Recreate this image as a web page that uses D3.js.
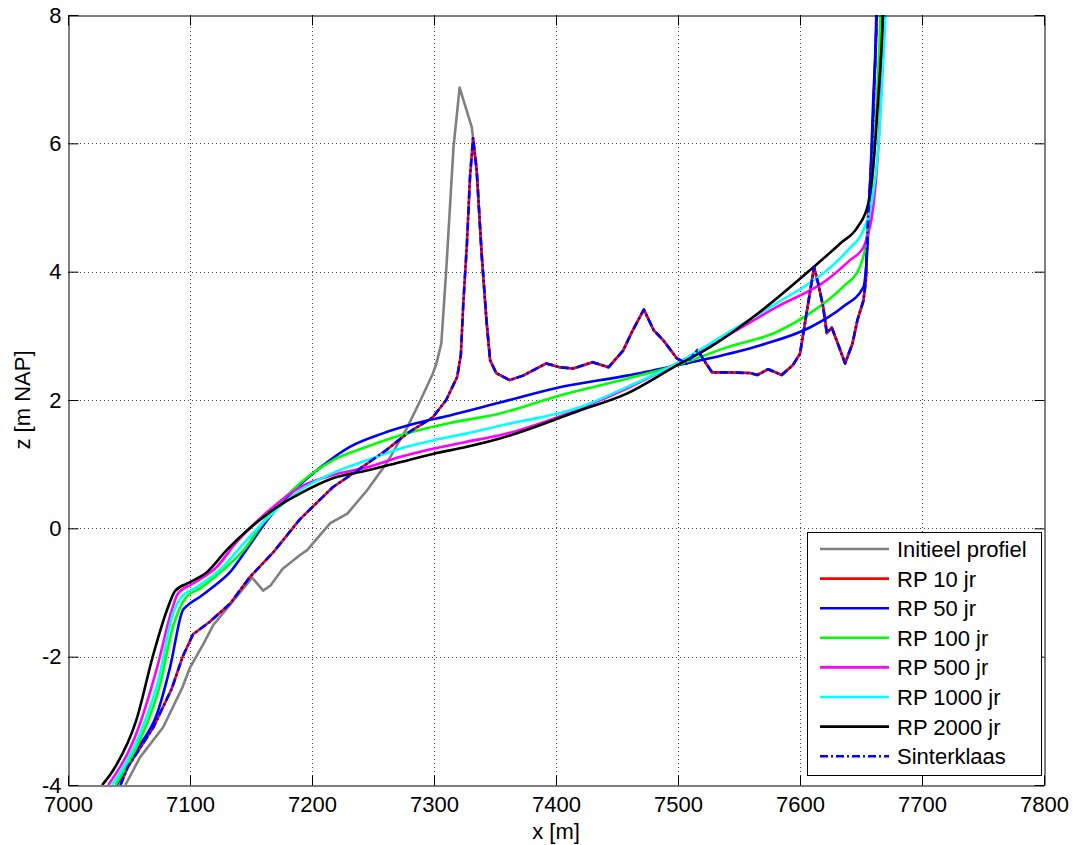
<!DOCTYPE html>
<html>
<head>
<meta charset="utf-8">
<script src="https://cdn.jsdelivr.net/npm/d3@7"></script>
<style>
  html, body { margin: 0; padding: 0; background: #fff; }
  svg { display: block; font-family: "Liberation Sans", Arial, Helvetica, sans-serif; }
</style>
</head>
<body>
<svg id="chart" width="1074" height="845"></svg>
<script>
// Cross-shore profiles: x [m] vs bed level z [m NAP]
const xTicks = [7000, 7100, 7200, 7300, 7400, 7500, 7600, 7700, 7800];
const zTicks = [-4, -2, 0, 2, 4, 6, 8];

// Post-storm profile, return period 10 years
const rp10 = [
  [7043,-4],[7049,-3.72],[7070,-3.1],[7085,-2.5],[7094,-2.0],[7102.5,-1.65],[7116,-1.46],
  [7133,-1.17],[7149,-0.76],[7168,-0.38],[7190,0.14],[7217,0.64],[7237,0.9],[7261,1.22],
  [7278,1.48],[7299,1.73],[7310,2.0],[7319,2.36],[7322,2.7],[7324,3.5],[7327,4.44],
  [7329.5,5.47],[7332,6.08],[7335,5.58],[7339,4.29],[7343,3.24],[7346,2.62],[7351,2.42],
  [7362,2.31],[7373,2.38],[7392,2.57],[7403,2.51],[7414,2.49],[7430,2.59],[7443,2.51],
  [7455,2.77],[7463,3.09],[7472,3.41],[7480,3.09],[7488,2.93],[7499,2.65],[7507,2.57],
  [7516,2.78],[7523,2.57],[7528,2.43],[7540,2.43],[7559,2.42],[7565,2.39],[7574,2.48],
  [7585,2.39],[7594,2.54],[7600,2.72],[7604,3.19],[7608,3.66],[7611.5,4.07],[7615,3.81],
  [7619,3.45],[7622,3.04],[7626,3.13],[7630,2.93],[7637,2.57],[7643,2.88],[7647,3.24],
  [7652,3.55],[7654,3.87],[7655,4.49],[7656,4.9],[7659,5.9],[7661.5,7.2],[7663,8.0],[7664,8.6]
];

// Initial profile seaward of the dune crest; landward it coincides with rp10
const initialSeaward = [
  [7047,-4],[7059,-3.57],[7078,-3.1],[7094,-2.47],[7100,-2.17],[7111,-1.8],[7119,-1.51],
  [7138,-1.07],[7151,-0.77],[7160,-0.97],[7166,-0.89],[7176,-0.63],[7190,-0.42],[7196,-0.34],
  [7215,0.08],[7229,0.23],[7245,0.59],[7261,1.01],[7278,1.57],[7289,2.0],[7299,2.41],
  [7302,2.57],[7306,2.88],[7310,4.02],[7316,5.94],[7321,6.87],[7331,6.25]
];
const initial = initialSeaward.concat(rp10.filter(d => d[0] >= 7332));

const rp50 = [
  [7040,-4],[7056,-3.46],[7073,-2.89],[7083.6,-2.17],[7094,-1.28],[7098,-1.2],[7108,-1.07],
  [7119,-0.91],[7133,-0.68],[7146,-0.34],[7163,0.12],[7185,0.59],[7207,0.95],[7231,1.27],
  [7258,1.48],[7286,1.64],[7313,1.76],[7354,1.96],[7403,2.2],[7458,2.38],[7499,2.54],
  [7526,2.65],[7567,2.85],[7608,3.13],[7635,3.45],[7652,3.76],[7655,4.3],[7657,5.1],
  [7660,6.67],[7662.5,8.0],[7663,8.6]
];

const rp100 = [
  [7039,-4],[7059,-3.3],[7075,-2.47],[7086,-1.54],[7097,-1.07],[7108,-0.94],[7127,-0.65],
  [7144,-0.34],[7163,0.17],[7190,0.7],[7217,1.06],[7245,1.27],[7278,1.48],[7313,1.64],
  [7354,1.79],[7403,2.07],[7458,2.33],[7499,2.54],[7540,2.82],[7581,3.06],[7608,3.35],
  [7635,3.76],[7649,4.07],[7653,4.33],[7655,4.6],[7659,5.37],[7663,6.67],[7666,8.0],[7667,8.6]
];

const rp500 = [
  [7033,-4],[7057,-3.15],[7073,-2.17],[7085,-1.28],[7090,-1.02],[7102.5,-0.86],[7122,-0.6],
  [7137,-0.24],[7163,0.25],[7190,0.64],[7217,0.83],[7245,0.95],[7272,1.11],[7299,1.24],
  [7327,1.35],[7354,1.45],[7420,1.87],[7458,2.18],[7499,2.57],[7540,3.0],[7581,3.45],
  [7622,3.87],[7641,4.18],[7652,4.38],[7656,4.6],[7660,5.0],[7664,5.89],[7667,7.19],
  [7668,8.0],[7669,8.6]
];

const rp1000 = [
  [7036,-4],[7059,-3.2],[7074,-2.37],[7086,-1.33],[7093,-1.07],[7106,-0.91],[7127,-0.6],
  [7140,-0.32],[7163,0.15],[7190,0.59],[7217,0.86],[7245,1.06],[7272,1.24],[7299,1.37],
  [7327,1.48],[7354,1.6],[7420,1.89],[7458,2.2],[7499,2.57],[7540,3.04],[7581,3.51],
  [7622,4.02],[7640,4.35],[7652,4.65],[7659,5.11],[7664,5.89],[7668,7.19],[7670,8.0],[7671,8.6]
];

const rp2000 = [
  [7028,-4],[7037,-3.77],[7056,-2.99],[7070,-1.96],[7081,-1.28],[7088,-0.97],[7100,-0.84],
  [7114,-0.68],[7130,-0.34],[7149,0.0],[7176,0.39],[7190,0.54],[7217,0.78],[7245,0.9],
  [7272,1.03],[7299,1.16],[7327,1.27],[7354,1.4],[7420,1.84],[7458,2.1],[7499,2.54],
  [7526,2.82],[7567,3.37],[7608,4.02],[7633,4.44],[7647,4.69],[7656,5.06],[7660,5.63],
  [7664,6.67],[7668,8.0],[7669,8.6]
];

// Sinterklaas storm profile coincides with the 10-year profile
const sinterklaas = rp10;

const seriesNames = ["Initieel profiel","RP 10 jr","RP 50 jr","RP 100 jr","RP 500 jr","RP 1000 jr","RP 2000 jr","Sinterklaas"];
const seriesData  = [initial, rp10, rp50, rp100, rp500, rp1000, rp2000, sinterklaas];
const seriesColors = ["#808080","#ff0000","#0000ff","#00ff00","#ff00ff","#00ffff","#000000","#0000ff"];
const seriesDash   = [null, null, null, null, null, null, null, "8,3,2,3"];
// Equilibrium profiles are drawn as smooth curves, measured profiles as polylines
const seriesSmooth = [false, false, true, true, true, true, true, false];

// Layout
const svg = d3.select("#chart");
const W = 1074, H = 845;
const plot = { left: 68, right: 1044, top: 15, bottom: 785 };

svg.append("rect").attr("width", W).attr("height", H).attr("fill", "#fff");

const x = d3.scaleLinear().domain([7000, 7800]).range([plot.left, plot.right]);
const y = d3.scaleLinear().domain([-4, 8]).range([plot.bottom, plot.top]);

// Grid
const grid = svg.append("g").attr("stroke", "#444").attr("stroke-width", 1).attr("stroke-dasharray", "1,3");
grid.selectAll("line.gx").data(xTicks.slice(1, -1)).join("line")
  .attr("x1", d => Math.round(x(d)) + 0.5).attr("x2", d => Math.round(x(d)) + 0.5)
  .attr("y1", plot.top).attr("y2", plot.bottom);
grid.selectAll("line.gy").data(zTicks.slice(1, -1)).join("line")
  .attr("x1", plot.left).attr("x2", plot.right)
  .attr("y1", d => Math.round(y(d)) + 0.5).attr("y2", d => Math.round(y(d)) + 0.5);

// Curves
svg.append("clipPath").attr("id", "clip").append("rect")
  .attr("x", plot.left).attr("y", plot.top)
  .attr("width", plot.right - plot.left).attr("height", plot.bottom - plot.top);

const linePoly = d3.line().x(d => x(d[0])).y(d => y(d[1]));
const lineSmooth = d3.line().x(d => x(d[0])).y(d => y(d[1])).curve(d3.curveMonotoneX);
const curves = svg.append("g").attr("clip-path", "url(#clip)");
seriesData.forEach((data, i) => {
  curves.append("path")
    .attr("d", (seriesSmooth[i] ? lineSmooth : linePoly)(data))
    .attr("fill", "none")
    .attr("stroke", seriesColors[i])
    .attr("stroke-width", 2.6)
    .attr("stroke-linejoin", "round")
    .attr("stroke-dasharray", seriesDash[i]);
});

// Axes (box with inward ticks on all sides)
const tickLen = 10;
const fontSize = 22;
const plainFormat = d => String(d);
const axBottom = d3.axisBottom(x).tickValues(xTicks).tickSizeInner(-tickLen).tickSizeOuter(0).tickPadding(11).tickFormat(plainFormat);
const axTop = d3.axisTop(x).tickValues(xTicks).tickSizeInner(-tickLen).tickSizeOuter(0).tickFormat("");
const axLeft = d3.axisLeft(y).tickValues(zTicks).tickSizeInner(-tickLen).tickSizeOuter(0).tickPadding(7).tickFormat(plainFormat);
const axRight = d3.axisRight(y).tickValues(zTicks).tickSizeInner(-tickLen).tickSizeOuter(0).tickFormat("");

function styleAxis(g) {
  g.select(".domain").attr("stroke", "#000").attr("stroke-width", 1);
  g.selectAll(".tick line").attr("stroke", "#000");
  g.selectAll("text").attr("fill", "#000").attr("font-size", fontSize)
    .attr("font-family", "'Liberation Sans', Arial, sans-serif");
}
svg.append("g").attr("transform", `translate(0,${plot.bottom + 0.5})`).call(axBottom).call(styleAxis);
svg.append("g").attr("transform", `translate(0,${plot.top + 0.5})`).call(axTop).call(styleAxis);
svg.append("g").attr("transform", `translate(${plot.left + 0.5},0)`).call(axLeft).call(styleAxis);
svg.append("g").attr("transform", `translate(${plot.right + 0.5},0)`).call(axRight).call(styleAxis);

// Axis labels
svg.append("text")
  .attr("x", (plot.left + plot.right) / 2).attr("y", 839)
  .attr("text-anchor", "middle").attr("font-size", fontSize).attr("fill", "#000")
  .text("x [m]");
svg.append("text")
  .attr("transform", `translate(30,${(plot.top + plot.bottom) / 2}) rotate(-90)`)
  .attr("text-anchor", "middle").attr("font-size", fontSize).attr("fill", "#000")
  .text("z [m NAP]");

// Legend
const leg = { x: 807, y: 532, w: 234, h: 243, row0: 549, rowStep: 29.6 };
const legend = svg.append("g");
legend.append("rect")
  .attr("x", leg.x + 0.5).attr("y", leg.y + 0.5).attr("width", leg.w).attr("height", leg.h)
  .attr("fill", "#fff").attr("stroke", "#000").attr("stroke-width", 1);
seriesNames.forEach((name, i) => {
  const ry = leg.row0 + i * leg.rowStep;
  legend.append("line")
    .attr("x1", 820).attr("x2", 889).attr("y1", ry).attr("y2", ry)
    .attr("stroke", seriesColors[i]).attr("stroke-width", 2.6)
    .attr("stroke-dasharray", seriesDash[i]);
  legend.append("text")
    .attr("x", 897).attr("y", ry + 8)
    .attr("font-size", fontSize).attr("fill", "#000")
    .text(name);
});
</script>
</body>
</html>
